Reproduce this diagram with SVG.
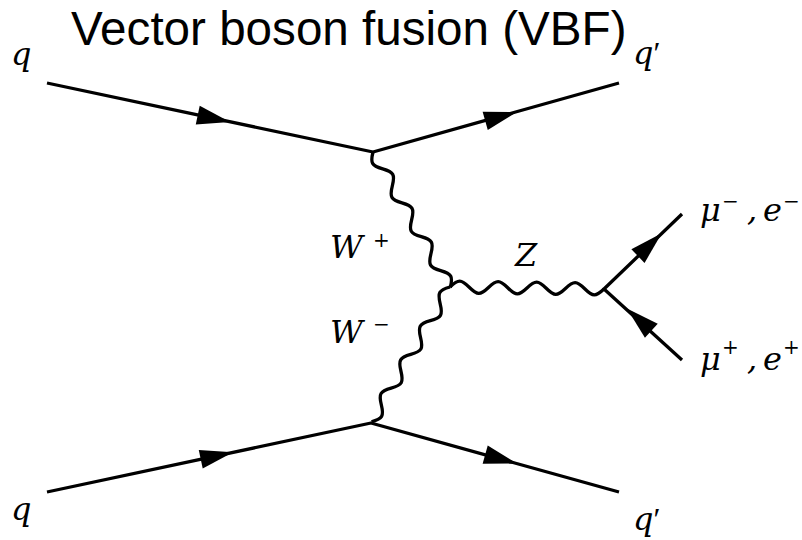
<svg xmlns="http://www.w3.org/2000/svg" xmlns:xlink="http://www.w3.org/1999/xlink" width="802" height="540" viewBox="0 0 802 540">
<style>
.ln{fill:none;stroke:#000;stroke-width:3.3;stroke-linejoin:round;stroke-linecap:butt}
.arr{fill:#000;stroke:none}
.m{font-family:"DejaVu Serif","Liberation Serif",serif;font-style:italic;font-size:32px;fill:#000}
.pr{font-family:"Liberation Serif","DejaVu Serif",serif;font-style:normal;font-size:32px}
.sup{font-family:"DejaVu Serif","Liberation Serif",serif;font-style:normal;font-size:20px;fill:#000}
.title{font-family:"Liberation Sans",Arial,sans-serif;font-size:47.6px;fill:#000}
</style>
<defs>
<path id="arrow" class="arr" d="M17 0 L-16 -9.5 L-16 9.5 Z"/>
<path id="waveP" d="M0 0 C8.28 8 11.22 8 19.5 0 S30.72 -8 39 0 S50.22 8 58.5 0 S69.72 -8 78 0 S89.22 8 97.5 0 S108.72 -8 117 0 S128.22 8 136.5 0 S147.72 -8 156 0"/>
<path id="waveN" d="M0 0 C8.28 -8 11.22 -8 19.5 0 S30.72 8 39 0 S50.22 -8 58.5 0 S69.72 8 78 0 S89.22 -8 97.5 0 S108.72 8 117 0 S128.22 -8 136.5 0 S147.72 8 156 0"/>
</defs>
<text class="title" x="71" y="45">Vector boson fusion (VBF)</text>
<g id="connectors">
<g id="quark-top">
<path class="ln" d="M47 83 L373 152 L619 83"/>
<use xlink:href="#arrow" href="#arrow" transform="translate(213.4,118.4) rotate(11.95)"/>
<use xlink:href="#arrow" href="#arrow" transform="translate(500.6,116.6) rotate(-15.67)"/>
</g>
<g id="quark-bottom">
<path class="ln" d="M47 492 L371 423 L619 492"/>
<use xlink:href="#arrow" href="#arrow" transform="translate(216.4,455.9) rotate(-12.0)"/>
<use xlink:href="#arrow" href="#arrow" transform="translate(500.6,459) rotate(15.55)"/>
</g>
<g id="w-plus"><use class="ln" xlink:href="#waveP" href="#waveP" transform="translate(373,152) rotate(60.3)"/></g>
<g id="w-minus"><use class="ln" xlink:href="#waveP" href="#waveP" transform="translate(450,287) rotate(120.2)"/></g>
<g id="z-boson"><use class="ln" xlink:href="#waveN" href="#waveN" transform="translate(450,287) rotate(0.74) scale(0.987,1)"/></g>
<g id="leptons">
<path class="ln" d="M682 214 L604 289 L682 360"/>
<use xlink:href="#arrow" href="#arrow" transform="translate(649.5,245) rotate(-43.9)"/>
<use xlink:href="#arrow" href="#arrow" transform="translate(639.5,320) rotate(222.3)"/>
</g>
</g>
<g id="label-q-in-top"><text class="m" x="11" y="65">q</text></g>
<g id="label-q-out-top"><text class="m" x="633" y="64">q<tspan class="pr">′</tspan></text></g>
<g id="label-q-in-bottom"><text class="m" x="11" y="520">q</text></g>
<g id="label-q-out-bottom"><text class="m" x="633" y="530">q<tspan class="pr">′</tspan></text></g>
<g id="label-wplus"><text class="m" x="330" y="258">W</text><text class="sup" x="373" y="247">+</text></g>
<g id="label-wminus"><text class="m" x="330" y="343">W</text><text class="sup" x="373" y="331">−</text></g>
<g id="label-z"><text class="m" x="515" y="266">Z</text></g>
<g id="label-lep-minus"><text class="m" x="700" y="221">μ</text><text class="sup" x="722" y="208">−</text><text class="m" x="747" y="221">,</text><text class="m" x="763" y="221">e</text><text class="sup" x="783" y="208">−</text></g>
<g id="label-lep-plus"><text class="m" x="700" y="370">μ</text><text class="sup" x="722" y="354">+</text><text class="m" x="747" y="370">,</text><text class="m" x="763" y="370">e</text><text class="sup" x="783" y="354">+</text></g>
</svg>
